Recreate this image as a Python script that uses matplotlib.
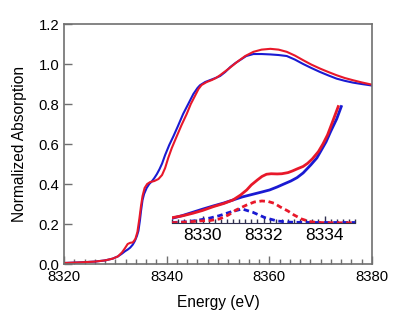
import matplotlib
matplotlib.use('Agg')
import matplotlib.pyplot as plt
from matplotlib.ticker import MultipleLocator, FormatStrFormatter

plt.rcParams['font.family'] = ['Liberation Sans', 'DejaVu Sans']

# main spectra (energy in eV, normalized absorption)
E_RED = [8320, 8323, 8326, 8328, 8329.5, 8330.5, 8331.3, 8331.9, 8332.4, 8332.9,
         8333.4, 8333.9, 8334.3, 8334.7, 8335.0, 8335.3, 8335.7, 8336.2, 8336.8, 8337.6,
         8338.4, 8339.1, 8339.7, 8340.3, 8341.0, 8341.9, 8342.9, 8343.9, 8344.7, 8345.5,
         8346.2, 8346.8, 8347.8, 8348.8, 8349.6, 8350.4, 8352.0, 8353.7, 8355.3, 8356.9,
         8358.5, 8360.2, 8361.8, 8363.4, 8365.0, 8366.6, 8368.2, 8369.9, 8371.5, 8373.1,
         8374.7, 8376.3, 8378.0, 8379.6, 8380]
A_RED = [0.005, 0.008, 0.012, 0.018, 0.027, 0.038, 0.058, 0.080, 0.100, 0.106,
         0.108, 0.125, 0.160, 0.230, 0.290, 0.340, 0.380, 0.400, 0.410, 0.415,
         0.425, 0.445, 0.480, 0.530, 0.580, 0.635, 0.695, 0.750, 0.800, 0.840,
         0.875, 0.895, 0.910, 0.920, 0.930, 0.944, 0.975, 1.010, 1.040, 1.061,
         1.072, 1.076, 1.072, 1.061, 1.042, 1.019, 0.997, 0.977, 0.960, 0.944,
         0.930, 0.919, 0.908, 0.899, 0.897]

E_BLUE = [8320, 8323, 8326, 8328, 8329.5, 8330.5, 8331.3, 8331.9, 8332.4, 8332.9,
          8333.4, 8333.8, 8334.2, 8334.5, 8334.8, 8335.0, 8335.3, 8335.6, 8336.1, 8336.6,
          8337.1, 8337.6, 8338.1, 8338.6, 8339.1, 8339.7, 8340.5, 8341.3, 8342.2, 8343.2,
          8344.2, 8345.2, 8346.0, 8346.5, 8347.5, 8348.5, 8349.5, 8350.4, 8351.4, 8352.4,
          8353.4, 8354.3, 8355.5, 8356.9, 8358.5, 8360.2, 8361.8, 8363.4, 8365.0, 8366.6,
          8368.2, 8369.9, 8371.5, 8373.1, 8374.7, 8376.3, 8378.0, 8379.6, 8380]
A_BLUE = [0.005, 0.008, 0.012, 0.018, 0.027, 0.038, 0.052, 0.064, 0.072, 0.082,
          0.097, 0.115, 0.140, 0.166, 0.220, 0.265, 0.320, 0.350, 0.380, 0.400,
          0.413, 0.430, 0.450, 0.474, 0.502, 0.545, 0.595, 0.638, 0.690, 0.750,
          0.800, 0.850, 0.880, 0.894, 0.910, 0.920, 0.930, 0.940, 0.960, 0.985,
          1.005, 1.020, 1.040, 1.050, 1.050, 1.048, 1.045, 1.040, 1.022, 1.000,
          0.980, 0.960, 0.943, 0.927, 0.916, 0.907, 0.900, 0.894, 0.892]

# inset: pre-edge region
IE_RED = [8329.0, 8329.35, 8329.68, 8330.0, 8330.35, 8330.7, 8331.0, 8331.25, 8331.45, 8331.6,
          8331.8, 8331.95, 8332.1, 8332.25, 8332.45, 8332.6, 8332.8, 8332.95, 8333.1, 8333.3,
          8333.45, 8333.6, 8333.8, 8333.95, 8334.1, 8334.25, 8334.45]
IA_RED = [0.0053, 0.0072, 0.0097, 0.0125, 0.0163, 0.0195, 0.0230, 0.0280, 0.0330, 0.0380,
          0.0430, 0.0465, 0.0487, 0.0492, 0.0490, 0.0492, 0.0503, 0.0520, 0.0540, 0.0565,
          0.0597, 0.0640, 0.0713, 0.0790, 0.0880, 0.1000, 0.1163]
IE_BLUE = [8329.0, 8329.35, 8329.68, 8330.0, 8330.35, 8330.7, 8331.0, 8331.3, 8331.65, 8331.95,
           8332.2, 8332.45, 8332.65, 8332.9, 8333.1, 8333.3, 8333.55, 8333.75, 8333.9, 8334.05,
           8334.2, 8334.4, 8334.55]
IA_BLUE = [0.0047, 0.0075, 0.0107, 0.0138, 0.0170, 0.0200, 0.0230, 0.0260, 0.0287, 0.0310,
           0.0330, 0.0360, 0.0387, 0.0420, 0.0453, 0.0500, 0.0580, 0.0650, 0.0730, 0.0810,
           0.0913, 0.1040, 0.1163]

# inset: fitted pre-edge peaks
PE_RED = [8329.0, 8329.5, 8329.9, 8330.25, 8330.55, 8330.85, 8331.1, 8331.45, 8331.7, 8331.95,
          8332.15, 8332.35, 8332.55, 8332.8, 8333.0, 8333.25, 8333.5, 8333.7, 8334.0, 8334.5, 8335.0]
PA_RED = [0.0003, 0.0010, 0.0020, 0.0025, 0.0040, 0.0080, 0.0130, 0.0180, 0.0210, 0.0220,
          0.0215, 0.0197, 0.0160, 0.0120, 0.0080, 0.0040, 0.0015, 0.0007, 0.0003, 0.0002, 0.0002]
PE_BLUE = [8329.0, 8329.5, 8329.9, 8330.25, 8330.55, 8330.95, 8331.3, 8331.65, 8332.05, 8332.45,
           8332.8, 8333.2, 8333.7, 8334.2, 8335.0]
PA_BLUE = [0.0005, 0.0012, 0.0030, 0.0050, 0.0073, 0.0113, 0.0140, 0.0107, 0.0053, 0.0020,
           0.0009, 0.0006, 0.0005, 0.0005, 0.0005]

RED = '#e8182a'
BLUE = '#1a1ad2'
GREY = '#707070'

fig = plt.figure(figsize=(4.0, 3.31), dpi=100)
ax = fig.add_axes([0.16, 0.2024, 0.77, 0.725])
ax.plot(E_BLUE, A_BLUE, color=BLUE, lw=1.5)
ax.plot(E_RED, A_RED, color=RED, lw=1.5)
ax.set_xlim(8320, 8380)
ax.set_ylim(0, 1.2)
ax.xaxis.set_major_locator(MultipleLocator(20))
ax.xaxis.set_minor_locator(MultipleLocator(2))
ax.yaxis.set_major_locator(MultipleLocator(0.2))
ax.yaxis.set_major_formatter(FormatStrFormatter('%.1f'))
ax.tick_params(which='both', direction='in', color=GREY, labelsize=10.7, width=1)
ax.tick_params(which='major', length=6)
ax.tick_params(which='minor', length=3.5)
ax.tick_params(axis='x', pad=4.5)
for s in ax.spines.values():
    s.set_color(GREY)
    s.set_linewidth(1.2)
ax.set_xlabel('Energy (eV)', fontsize=11.2, labelpad=8)
ax.set_ylabel('Normalized Absorption', fontsize=11.2, labelpad=8)

ins = fig.add_axes([0.43, 0.3263, 0.4575, 0.372])
ins.patch.set_alpha(0)
ins.plot(PE_BLUE, PA_BLUE, color=BLUE, lw=2, ls=(0, (2, 1.3)))
ins.plot(PE_RED, PA_RED, color=RED, lw=2, ls=(0, (2, 1.3)))
ins.plot(IE_BLUE, IA_BLUE, color=BLUE, lw=2)
ins.plot(IE_RED, IA_RED, color=RED, lw=2)
ins.set_xlim(8329, 8335)
ins.set_ylim(0, 0.123)
for side in ['top', 'right', 'left']:
    ins.spines[side].set_visible(False)
ins.spines['bottom'].set_color('#303050')
ins.set_yticks([])
ins.xaxis.set_major_locator(MultipleLocator(2))
ins.xaxis.set_minor_locator(MultipleLocator(0.2))
ins.tick_params(which='both', direction='in', color='#303050', labelsize=12.5, width=1)
ins.tick_params(which='major', length=5)
ins.tick_params(which='minor', length=3)

fig.savefig('out.png', dpi=100)
